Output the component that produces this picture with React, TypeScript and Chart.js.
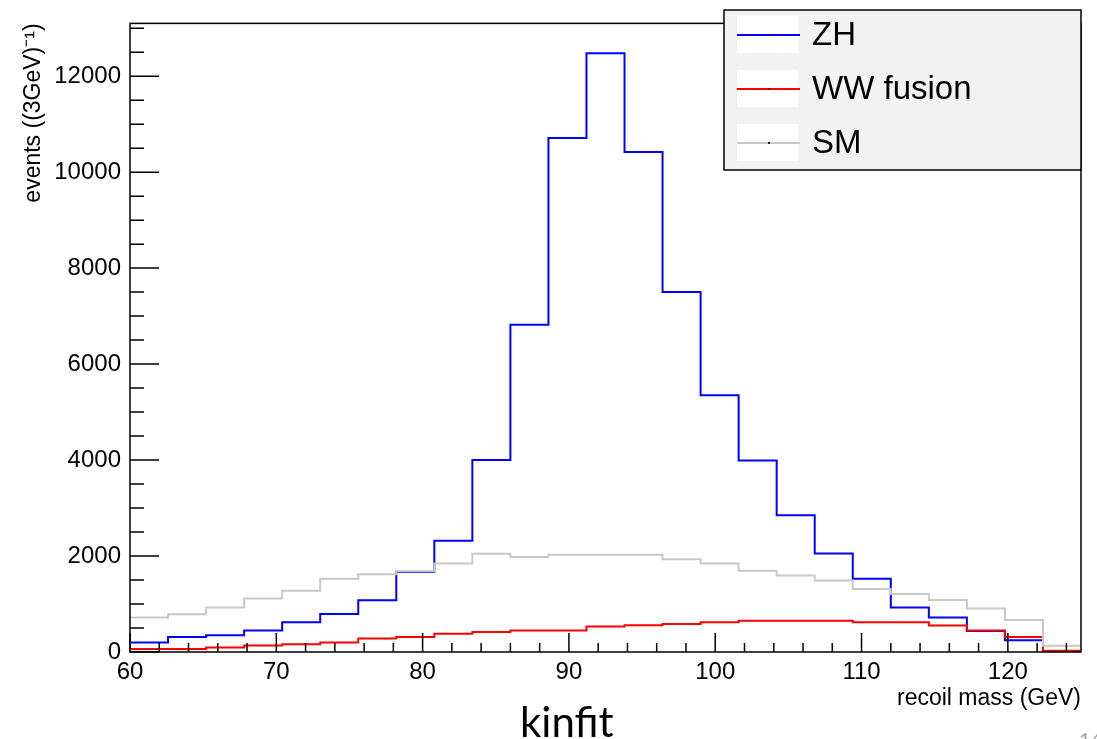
import { useEffect, useRef } from 'react';
import { Chart, registerables } from 'chart.js';

Chart.register(...registerables);

// Histogram bin edges (GeV), 25 bins of 2.6 GeV from 60 to 125
const binEdges = [60, 62.6, 65.2, 67.8, 70.4, 73, 75.6, 78.2, 80.8, 83.4, 86, 88.6, 91.2, 93.8, 96.4, 99, 101.6, 104.2, 106.8, 109.4, 112, 114.6, 117.2, 119.8, 122.4, 125];

// Bin contents (events / bin)
const zhValues = [200, 310, 350, 450, 620, 790, 1080, 1670, 2320, 4000, 6820, 10710, 12480, 10420, 7500, 5350, 3990, 2850, 2055, 1525, 925, 720, 440, 245, 0];
const wwValues = [60, 60, 95, 136, 163, 197, 279, 313, 381, 415, 449, 449, 531, 558, 585, 619, 653, 653, 653, 619, 619, 551, 449, 313, 27];
const smValues = [721, 789, 925, 1116, 1279, 1524, 1619, 1687, 1844, 2048, 1980, 2027, 2027, 2027, 1932, 1844, 1694, 1592, 1490, 1313, 1211, 1082, 905, 667, 129];

const seriesLabels = ['ZH', 'WW fusion', 'SM'];
const seriesColors = ['#0000ff', '#ff0000', '#c8c8c8'];

// Axis tick labels
const xTickValues = [60, 70, 80, 90, 100, 110, 120];
const yTickValues = [0, 2000, 4000, 6000, 8000, 10000, 12000];

const xTitle = 'recoil mass (GeV)';
const yTitle = 'events ((3GeV)\u207B\u00B9)';
const captionText = 'kinfit';
const pageText = '14';

const FONT = "'Liberation Sans', Arial, Helvetica, sans-serif";

function histPoints(values: number[]) {
  const pts = values.map((v, i) => ({ x: binEdges[i], y: v }));
  pts.push({ x: binEdges[binEdges.length - 1], y: values[values.length - 1] });
  return pts;
}

const rootPlugin = {
  id: 'rootStyle',
  afterDraw(chart: any) {
    const { ctx, chartArea } = chart;
    const xs = chart.scales.x;
    const ys = chart.scales.y;
    const { left, right, top, bottom } = chartArea;
    ctx.save();
    // frame
    ctx.strokeStyle = '#000';
    ctx.lineWidth = 1.5;
    ctx.strokeRect(left, top, right - left, bottom - top);
    // x ticks (inward)
    ctx.beginPath();
    for (let v = 60; v <= 125.001; v += 2) {
      const px = xs.getPixelForValue(v);
      const major = Math.abs(v % 10) < 1e-6;
      const len = major ? 19 : 9;
      ctx.moveTo(px, bottom);
      ctx.lineTo(px, bottom - len);
    }
    // y ticks (inward)
    for (let v = 0; v <= 13100; v += 500) {
      const py = ys.getPixelForValue(v);
      const major = v % 2000 === 0;
      const len = major ? 29 : 14;
      ctx.moveTo(left, py);
      ctx.lineTo(left + len, py);
    }
    ctx.stroke();

    // y-axis title, right-aligned to the top of the frame
    ctx.save();
    ctx.translate(34, top);
    ctx.rotate(-Math.PI / 2);
    ctx.fillStyle = '#000';
    ctx.font = `23px ${FONT}`;
    ctx.textAlign = 'right';
    ctx.textBaseline = 'middle';
    ctx.fillText(yTitle, 0, 0);
    ctx.restore();

    // legend
    const lx = 724, ly = 10, lw = right - 724, lh = 160;
    ctx.fillStyle = '#f2f2f2';
    ctx.fillRect(lx, ly, lw, lh);
    ctx.strokeStyle = '#000';
    ctx.lineWidth = 1.5;
    ctx.strokeRect(lx, ly, lw, lh);
    chart.data.datasets.forEach((ds: any, i: number) => {
      const cy = 35 + i * 54;
      ctx.fillStyle = '#ffffff';
      ctx.fillRect(737, cy - 19, 61, 37);
      ctx.strokeStyle = ds.borderColor;
      ctx.lineWidth = 2;
      ctx.beginPath();
      ctx.moveTo(737, cy);
      ctx.lineTo(800, cy);
      ctx.stroke();
      ctx.fillStyle = '#222';
      ctx.fillRect(768, cy - 1, 2, 2);
      ctx.fillStyle = '#000';
      ctx.font = `33px ${FONT}`;
      ctx.textAlign = 'left';
      ctx.textBaseline = 'middle';
      ctx.fillText(ds.label, 812, cy + 1);
    });

    // caption
    ctx.fillStyle = '#000';
    ctx.font = "42px Lato, 'Open Sans', sans-serif";
    ctx.textAlign = 'left';
    ctx.textBaseline = 'alphabetic';
    ctx.fillText(captionText, 520, 737);

    // page number (cut off)
    ctx.fillStyle = '#a0a0a0';
    ctx.font = "20px Lato, sans-serif";
    ctx.textBaseline = 'top';
    ctx.fillText(pageText, 1079, 731);
    ctx.restore();
  },
};

export default function App() {
  const canvasRef = useRef<HTMLCanvasElement | null>(null);

  useEffect(() => {
    if (!canvasRef.current) return;
    const seriesValues = [zhValues, wwValues, smValues];
    const chart = new Chart(canvasRef.current, {
      type: 'line',
      data: {
        datasets: seriesValues.map((vals, i) => ({
          label: seriesLabels[i],
          data: histPoints(vals),
          borderColor: seriesColors[i],
          backgroundColor: seriesColors[i],
          borderWidth: 2,
          pointRadius: 0,
          stepped: true,
          fill: false,
          tension: 0,
          order: 3 - i,
        })),
      },
      options: {
        animation: false,
        responsive: false,
        devicePixelRatio: 1,
        layout: { padding: { left: 0, top: 10, right: 16, bottom: 0 } },
        plugins: {
          legend: { display: false },
          tooltip: { enabled: false },
        },
        scales: {
          x: {
            type: 'linear',
            min: 60,
            max: 125,
            grid: { display: false, drawTicks: false },
            border: { display: false },
            afterBuildTicks: (s: any) => {
              s.ticks = xTickValues.map((v) => ({ value: v }));
            },
            ticks: {
              autoSkip: false,
              maxRotation: 0,
              color: '#000',
              padding: 6,
              font: { family: FONT, size: 24 },
              callback: (v: any) => String(v),
            },
            title: {
              display: true,
              text: xTitle,
              align: 'end',
              color: '#000',
              font: { family: FONT, size: 23 },
              padding: { top: 0, bottom: 27 },
            },
            afterFit: (s: any) => {
              s.height = 87;
            },
          },
          y: {
            type: 'linear',
            min: 0,
            max: 13100,
            grid: { display: false, drawTicks: false },
            border: { display: false },
            afterBuildTicks: (s: any) => {
              s.ticks = yTickValues.map((v) => ({ value: v }));
            },
            ticks: {
              autoSkip: false,
              color: '#000',
              padding: 9,
              font: { family: FONT, size: 24 },
              callback: (v: any) => String(v),
            },
            title: { display: false },
            afterFit: (s: any) => {
              s.width = 130;
            },
          },
        },
      } as any,
      plugins: [rootPlugin],
    });
    return () => chart.destroy();
  }, []);

  return (
    <div style={{ position: 'absolute', left: 0, top: 0, width: 1097, height: 739, background: '#fff' }}>
      <canvas ref={canvasRef} width={1097} height={739} style={{ display: 'block' }} />
    </div>
  );
}
